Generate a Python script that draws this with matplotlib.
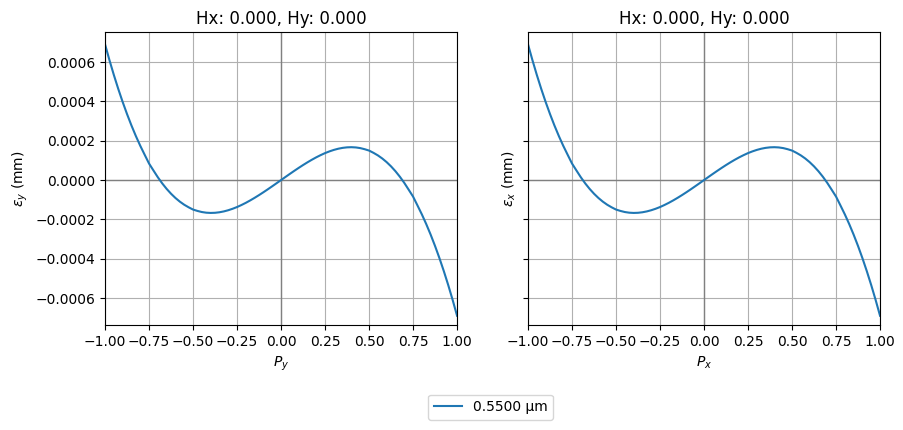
import numpy as np
import matplotlib
matplotlib.use("Agg")
import matplotlib.pyplot as plt

# Positive half of the normalized pupil coordinate (the fan is odd-symmetric)
pupil_half = [0.025, 0.05, 0.075, 0.1, 0.125, 0.15, 0.175, 0.2, 0.225, 0.25,
              0.275, 0.3, 0.325, 0.35, 0.375, 0.4, 0.425, 0.45, 0.475, 0.5,
              0.525, 0.55, 0.575, 0.6, 0.625, 0.65, 0.675, 0.7, 0.725, 0.75,
              0.775, 0.8, 0.825, 0.85, 0.875, 0.9, 0.925, 0.95, 0.975, 1.0]

# Transverse ray error on that half (units of 1e-4 mm)
err_half = [0.1577, 0.3141, 0.4681, 0.6182, 0.7634, 0.9023, 1.0336, 1.1567, 1.2687, 1.3715,
            1.4588, 1.5338, 1.5938, 1.6375, 1.6638, 1.6714, 1.6590, 1.6255, 1.5695, 1.5000,
            1.3856, 1.2551, 1.0974, 0.9113, 0.6955, 0.4488, 0.1701, -0.1419, -0.4882, -0.8400,
            -1.2888, -1.7454, -2.2411, -2.7771, -3.3542, -3.9739, -4.6373, -5.3454, -6.0994, -6.9000]

pupil = [-p for p in pupil_half[::-1]] + [0.0] + pupil_half
eps_y = [-v * 1e-4 for v in err_half[::-1]] + [0.0] + [v * 1e-4 for v in err_half]
eps_x = list(eps_y)

wavelength_label = "0.5500 µm"
titles = ["Hx: 0.000, Hy: 0.000", "Hx: 0.000, Hy: 0.000"]
xlabels = ["$P_y$", "$P_x$"]
ylabels = [r"$\epsilon_y$ (mm)", r"$\epsilon_x$ (mm)"]

fig = plt.figure(figsize=(9.04, 4.30), dpi=100)
ax1 = fig.add_axes([0.1162, 0.2442, 0.3894, 0.6814])
ax2 = fig.add_axes([0.5841, 0.2442, 0.3894, 0.6814], sharey=ax1)

for ax, data, t, xl, yl in zip([ax1, ax2], [eps_y, eps_x], titles, xlabels, ylabels):
    ax.axhline(0, color="gray", lw=1)
    ax.axvline(0, color="gray", lw=1)
    line, = ax.plot(pupil, data, color="#1f77b4", lw=1.5, label=wavelength_label)
    ax.set_xlim(-1, 1)
    ax.set_title(t)
    ax.set_xlabel(xl)
    ax.set_ylabel(yl)
    ax.grid(True)
    ax.set_xticks(np.arange(-1, 1.01, 0.25))

ax1.set_ylim(-0.000737, 0.000753)
plt.setp(ax2.get_yticklabels(), visible=False)

fig.legend(handles=[line], loc="center", bbox_to_anchor=(0.543, 0.053))
fig.savefig("out.png", dpi=100)
